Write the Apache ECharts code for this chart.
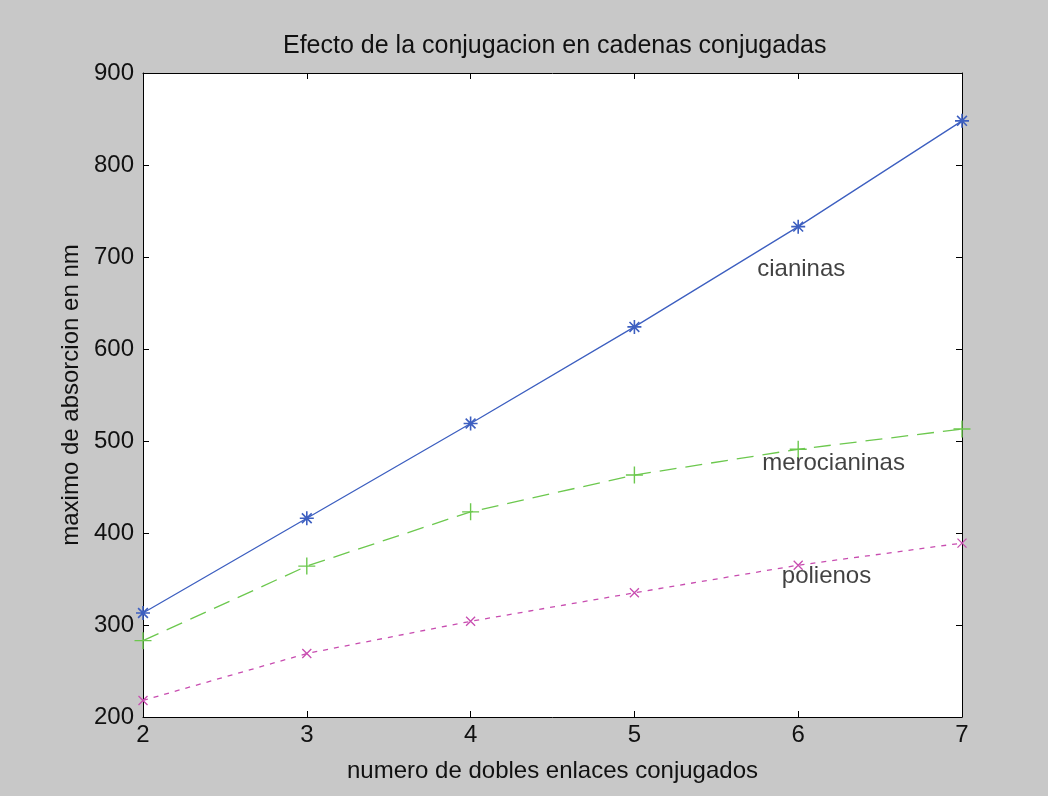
<!DOCTYPE html>
<html><head><meta charset="utf-8">
<script src="https://cdn.jsdelivr.net/npm/echarts@6/dist/echarts.min.js"></script>
<style>html,body{margin:0;padding:0;background:#c8c8c8}#c{width:1048px;height:796px}</style>
</head><body><div id="c"></div>
<script>
const xValues = [2, 3, 4, 5, 6, 7];
const cianinas = [313, 416, 519, 624, 733, 848];
const merocianinas = [283, 364, 423, 463, 491, 513];
const polienos = [218, 269, 304, 335, 365, 389];
const seriesNames = ['cianinas', 'merocianinas', 'polienos'];
const labelPos = [[5.75, 687], [5.78, 476], [5.9, 353]];
const yTicks = [200, 300, 400, 500, 600, 700, 800, 900];

const font = 'Liberation Sans';
const fs = 24;
const symStar = 'path://M5,0 L5,10 M0,5 L10,5 M1.5,1.5 L8.5,8.5 M8.5,1.5 L1.5,8.5';
const symPlus = 'path://M0,5 L10,5 M5,0 L5,10';
const symX = 'path://M0,0 L10,10 M10,0 L0,10';
const pairs = a => xValues.map((x, i) => [x, a[i]]);

const chart = echarts.init(document.getElementById('c'));
const axisCommon = {
  axisLine: {lineStyle: {color: '#000', width: 1}},
  axisTick: {inside: true, length: 6, lineStyle: {color: '#000'}},
  splitLine: {show: false}
};
chart.setOption({
  backgroundColor: '#c8c8c8',
  animation: false,
  title: {text: 'Efecto de la conjugacion en cadenas conjugadas', left: 278, top: 29,
    textStyle: {fontFamily: font, fontWeight: 'normal', fontSize: 25, color: '#111'}},
  grid: {left: 143, right: 86, top: 73, bottom: 79, backgroundColor: '#fff', show: true, borderWidth: 0},
  xAxis: [
    Object.assign({type: 'value', min: 2, max: 7, interval: 1, name: 'numero de dobles enlaces conjugados',
      nameLocation: 'middle', nameGap: 42,
      nameTextStyle: {fontFamily: font, fontSize: fs, color: '#111'},
      axisLabel: {fontFamily: font, fontSize: fs, color: '#111', margin: 6}}, axisCommon),
    Object.assign({type: 'value', min: 2, max: 7, interval: 1, position: 'top', axisLabel: {show: false}}, axisCommon)
  ],
  yAxis: [
    Object.assign({type: 'value', min: yTicks[0], max: yTicks[yTicks.length - 1], interval: 100,
      name: 'maximo de absorcion en nm', nameLocation: 'middle', nameGap: 58,
      nameTextStyle: {fontFamily: font, fontSize: fs, color: '#111'},
      axisLabel: {fontFamily: font, fontSize: fs, color: '#111', margin: 9}}, axisCommon),
    Object.assign({type: 'value', min: 200, max: 900, interval: 100, position: 'right', axisLabel: {show: false}}, axisCommon)
  ],
  series: [
    {name: seriesNames[0], type: 'line', data: pairs(cianinas), symbol: symStar, symbolSize: 14,
      lineStyle: {color: '#3d5fc0', width: 1.3, type: 'solid'},
      itemStyle: {color: 'none', borderColor: '#3d5fc0', borderWidth: 1.6}},
    {name: seriesNames[1], type: 'line', data: pairs(merocianinas), symbol: symPlus, symbolSize: 17,
      lineStyle: {color: '#6cc84e', width: 1.3, type: [17, 9]},
      itemStyle: {color: 'none', borderColor: '#6cc84e', borderWidth: 1.4}},
    {name: seriesNames[2], type: 'line', data: pairs(polienos), symbol: symX, symbolSize: 9,
      lineStyle: {color: '#c84db0', width: 1.3, type: [5, 6]},
      itemStyle: {color: 'none', borderColor: '#c84db0', borderWidth: 1.3}},
    {type: 'scatter', symbolSize: 0, silent: true,
      data: labelPos.map((p, i) => ({value: p, name: seriesNames[i]})),
      label: {show: true, position: 'right', distance: 0, formatter: p => p.name,
        fontFamily: font, fontSize: fs, color: '#111'}}
  ]
});
</script></body></html>
